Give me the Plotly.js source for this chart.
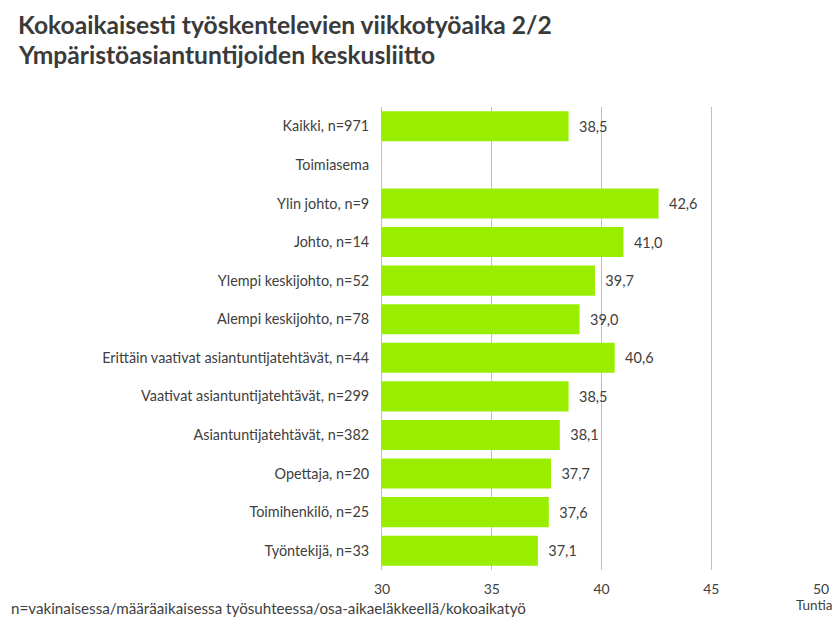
<!DOCTYPE html>
<html>
<head>
<meta charset="utf-8">
<script src="https://cdn.plot.ly/plotly-3.0.1.min.js"></script>
<style>html,body{margin:0;padding:0;background:#fff}#chart{width:839px;height:627px}</style>
</head>
<body>
<div id="chart"></div>
<script>
const categories = [
  "Kaikki, n=971",
  "Toimiasema",
  "Ylin johto, n=9",
  "Johto, n=14",
  "Ylempi keskijohto, n=52",
  "Alempi keskijohto, n=78",
  "Erittäin vaativat asiantuntijatehtävät, n=44",
  "Vaativat asiantuntijatehtävät, n=299",
  "Asiantuntijatehtävät, n=382",
  "Opettaja, n=20",
  "Toimihenkilö, n=25",
  "Työntekijä, n=33"
];
const hours = [38.5, null, 42.6, 41.0, 39.7, 39.0, 40.6, 38.5, 38.1, 37.7, 37.6, 37.1];
const xTicks = [30, 35, 40, 45, 50];

const labels = hours.map(v => v === null ? "" : "  " + v.toFixed(1).replace(".", ","));
const font = "Lato, 'Open Sans', sans-serif";

const trace = {
  type: "bar",
  orientation: "h",
  y: categories,
  x: hours,
  text: labels,
  textposition: "outside",
  cliponaxis: false,
  textfont: {family: font, size: 14.5, color: "#404040"},
  marker: {color: "#99EE00"},
  hoverinfo: "none"
};

const layout = {
  width: 839, height: 627,
  margin: {l: 382, r: 18, t: 107, b: 57},
  paper_bgcolor: "#fff", plot_bgcolor: "#fff",
  bargap: 0.22,
  showlegend: false,
  font: {family: font, color: "#404040", size: 14},
  xaxis: {
    range: [30, 50],
    tickvals: xTicks,
    ticktext: xTicks.map(String),
    showgrid: true, gridcolor: "#bfbfbf", gridwidth: 1,
    zeroline: false, showline: false,
    ticks: "", ticklabelstandoff: 9,
    tickfont: {family: font, size: 14, color: "#404040"},
    fixedrange: true
  },
  yaxis: {
    type: "category",
    autorange: "reversed",
    showgrid: false, zeroline: false,
    showline: true, linecolor: "#bfbfbf", linewidth: 1,
    ticks: "", ticklabelstandoff: 9,
    tickfont: {family: font, size: 14.4, color: "#404040"},
    fixedrange: true
  },
  annotations: [
    {text: "<b>Kokoaikaisesti työskentelevien viikkotyöaika 2/2</b>", xref: "paper", yref: "paper",
     x: -366/439, y: 1 + (107-8)/463, xanchor: "left", yanchor: "top", showarrow: false,
     font: {family: font, size: 24.6, color: "#3a3a3a"}},
    {text: "<b>Ympäristöasiantuntijoiden keskusliitto</b>", xref: "paper", yref: "paper",
     x: -366/439, y: 1 + (107-38)/463, xanchor: "left", yanchor: "top", showarrow: false,
     font: {family: font, size: 24.6, color: "#3a3a3a"}},
    {text: "n=vakinaisessa/määräaikaisessa työsuhteessa/osa-aikaeläkkeellä/kokoaikatyö", xref: "paper", yref: "paper",
     x: -373/439, y: -(597-570)/463, xanchor: "left", yanchor: "top", showarrow: false,
     font: {family: font, size: 15.2, color: "#404040"}},
    {text: "Tuntia", xref: "paper", yref: "paper",
     x: 1 + 14/439, y: -(595-570)/463, xanchor: "right", yanchor: "top", showarrow: false,
     font: {family: font, size: 13.5, color: "#404040"}}
  ]
};

Plotly.newPlot("chart", [trace], layout, {staticPlot: true, displayModeBar: false});
</script>
</body>
</html>
